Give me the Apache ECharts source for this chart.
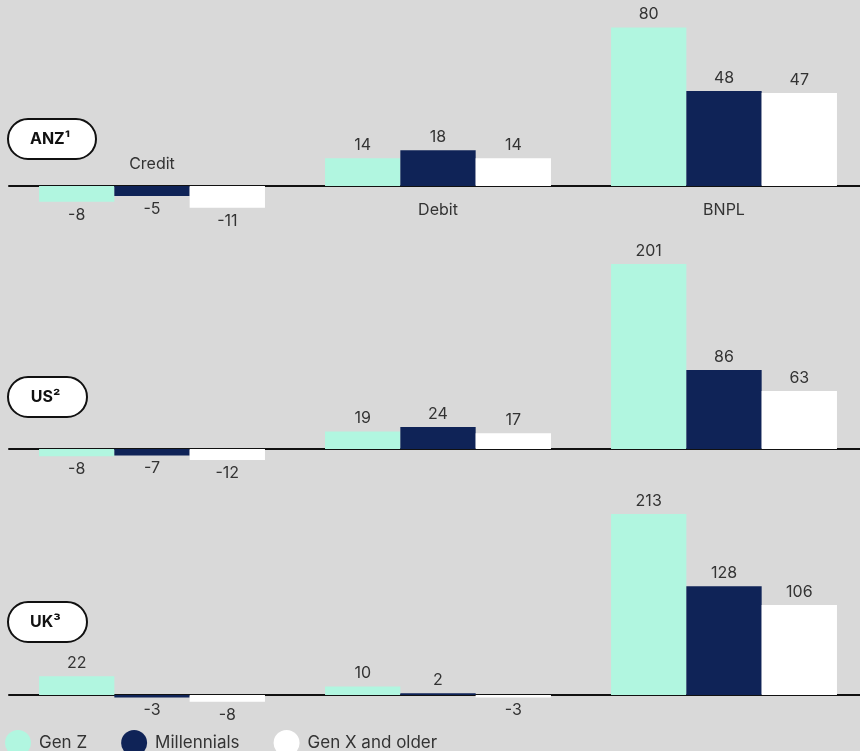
<!DOCTYPE html>
<html>
<head>
<meta charset="utf-8">
<script src="https://cdn.jsdelivr.net/npm/echarts@6/dist/echarts.min.js"></script>
<style>
  html, body { margin: 0; padding: 0; background: #d9d9d9; }
  #chart { width: 860px; height: 751px; }
</style>
</head>
<body>
<div id="chart"></div>
<script>
// Payment categories along each panel
const categories = ['Credit', 'Debit', 'BNPL'];
const seriesNames = ['Gen Z', 'Millennials', 'Gen X and older'];
const regionLabels = ['ANZ\u00b9', 'US\u00b2', 'UK\u00b3'];

// ANZ values per category
const anzGenZ = [-8, 14, 80];
const anzMillennials = [-5, 18, 48];
const anzGenX = [-11, 14, 47];

// US values per category
const usGenZ = [-8, 19, 201];
const usMillennials = [-7, 24, 86];
const usGenX = [-12, 17, 63];

// UK values per category
const ukGenZ = [22, 10, 213];
const ukMillennials = [-3, 2, 128];
const ukGenX = [-8, -3, 106];

const colors = ['#b1f6e0', '#0f2357', '#ffffff'];
const FONT = 'Inter, "Noto Sans", sans-serif';

const panels = [
  { data: [anzGenZ, anzMillennials, anzGenX], min: -20, max: 90, top: 7.8, height: 217.8 },
  { data: [usGenZ, usMillennials, usGenX], min: -20, max: 210, top: 255.8, height: 211.6 },
  { data: [ukGenZ, ukMillennials, ukGenX], min: -20, max: 220, top: 508, height: 204 }
];

const grid = [], xAxis = [], yAxis = [], series = [];
panels.forEach((p, i) => {
  // the last band runs a little past the right edge of the canvas
  grid.push({ left: 9, width: 858, top: p.top, height: p.height, outerBoundsMode: 'none' });
  xAxis.push({
    type: 'category', gridIndex: i, data: categories,
    axisLine: { onZero: true, lineStyle: { color: '#111', width: 2 } },
    axisTick: { show: false }, axisLabel: { show: false }, splitLine: { show: false }
  });
  yAxis.push({
    type: 'value', gridIndex: i, min: p.min, max: p.max,
    show: false, splitLine: { show: false }
  });
  p.data.forEach((vals, s) => {
    series.push({
      type: 'bar', name: seriesNames[s], xAxisIndex: i, yAxisIndex: i,
      barGap: '0%', barCategoryGap: '21%',
      itemStyle: { color: colors[s] },
      data: vals.map(v => ({
        value: v,
        label: { position: v < 0 ? 'bottom' : 'top' }
      })),
      label: {
        show: true, distance: 5, color: '#333', fontSize: 16, fontFamily: FONT
      }
    });
  });
});

// Category names shown in the first panel, placed just off the baseline
series.push({
  type: 'scatter', xAxisIndex: 0, yAxisIndex: 0, symbolSize: 1,
  itemStyle: { color: 'rgba(0,0,0,0)', opacity: 1 }, silent: true, z: 5,
  data: categories.map((c, k) => ({
    value: [c, 0],
    label: {
      position: anzGenZ[k] < 0 ? 'top' : 'bottom',
      distance: anzGenZ[k] < 0 ? 13 : 16
    }
  })),
  label: {
    show: true, formatter: p => p.value[0],
    color: '#333', fontSize: 16, fontFamily: FONT
  }
});

// Region pills
const pillBoxes = [
  { x: 7, y: 118, w: 88 },
  { x: 7, y: 376, w: 79 },
  { x: 7, y: 601, w: 79 }
];
const graphic = pillBoxes.map((b, i) => ({
  type: 'group', left: b.x, top: b.y, z: 10,
  children: [
    { type: 'rect', shape: { x: 0, y: 0, width: b.w, height: 40, r: 20 },
      style: { fill: '#fff', stroke: '#111', lineWidth: 2 } },
    { type: 'text', x: b.w / 2 - 2, y: 20,
      style: { text: regionLabels[i], fill: '#111', font: 'bold 16px ' + FONT,
               align: 'center', verticalAlign: 'middle' } }
  ]
}));

const chart = echarts.init(document.getElementById('chart'));
chart.setOption({
  backgroundColor: '#d9d9d9',
  animation: false,
  grid, xAxis, yAxis, series, graphic,
  legend: {
    data: seriesNames, left: 5, top: 730, padding: 0,
    icon: 'circle', itemWidth: 26, itemHeight: 26, itemGap: 34, itemStyle: { borderWidth: 0 },
    textStyle: { color: '#333', fontSize: 17, fontFamily: FONT, padding: [0, 0, 0, 3] }
  }
});
</script>
</body>
</html>
